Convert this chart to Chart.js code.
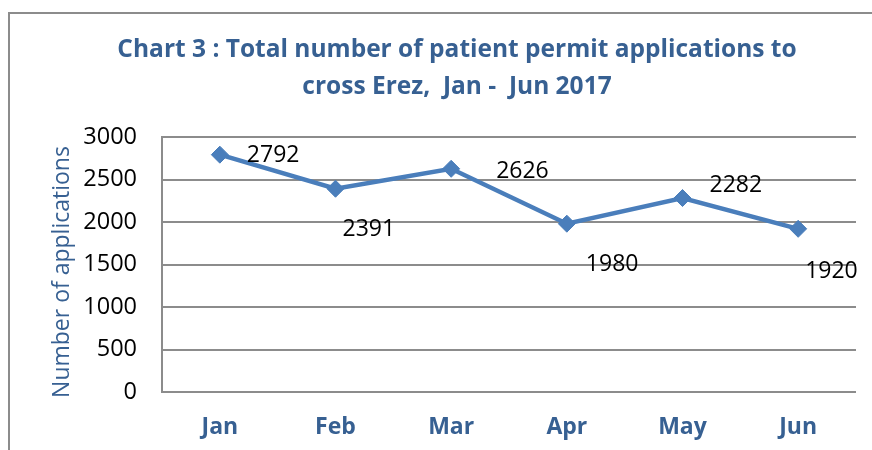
<!DOCTYPE html>
<html>
<head>
<meta charset="utf-8">
<script src="https://cdn.jsdelivr.net/npm/chart.js@4"></script>
<style>
  html, body { margin: 0; padding: 0; background: #ffffff; }
  #wrap { width: 872px; height: 450px; position: relative; }
</style>
</head>
<body>
<div id="wrap"><canvas id="c" width="872" height="450"></canvas></div>
<script>
const categories = ['Jan', 'Feb', 'Mar', 'Apr', 'May', 'Jun'];
const applications = [2792, 2391, 2626, 1980, 2282, 1920];
const yTicks = [0, 500, 1000, 1500, 2000, 2500, 3000];
const titleLines = ['Chart 3 : Total number of patient permit applications to', 'cross Erez,  Jan -  Jun 2017'];
const yAxisTitle = 'Number of applications';

const BLUE_TEXT = '#376092';
const LINE_BLUE = '#4A7EBB';
const GRID = '#8C8C8C';
const FONT = "'Open Sans', 'Liberation Sans', sans-serif";

// label offsets (left edge dx, vertical dy) relative to each point, as placed in the original
const labelOffsets = [[27, 0], [7, 40], [45, 2], [19, 40], [27, -14], [7, 42]];

const frame = {
  id: 'frame',
  beforeDraw(chart) {
    const ctx = chart.ctx;
    ctx.save();
    ctx.fillStyle = '#ffffff';
    ctx.fillRect(0, 0, chart.width, chart.height);
    ctx.strokeStyle = GRID;
    ctx.lineWidth = 2;
    ctx.strokeRect(9, 13, 900, 500);
    // chart title, centred on the outer frame as in the original
    ctx.fillStyle = BLUE_TEXT;
    ctx.font = 'bold 24.5px ' + FONT;
    ctx.textAlign = 'center';
    ctx.textBaseline = 'middle';
    ctx.fillText(titleLines[0], 457, 50);
    ctx.fillText(titleLines[1], 457, 87);
    // y axis title
    ctx.font = '23px ' + FONT;
    ctx.translate(62, 272);
    ctx.rotate(-Math.PI / 2);
    ctx.fillText(yAxisTitle, 0, 0);
    ctx.restore();
  }
};

const dataLabels = {
  id: 'dataLabels',
  afterDatasetsDraw(chart) {
    const ctx = chart.ctx;
    const meta = chart.getDatasetMeta(0);
    ctx.save();
    ctx.font = '23px ' + FONT;
    ctx.fillStyle = '#000000';
    ctx.textAlign = 'left';
    ctx.textBaseline = 'middle';
    meta.data.forEach((pt, i) => {
      const off = labelOffsets[i];
      ctx.fillText(String(applications[i]), pt.x + off[0], pt.y + off[1] + 1);
    });
    ctx.restore();
  }
};

new Chart(document.getElementById('c'), {
  type: 'line',
  data: {
    labels: categories,
    datasets: [{
      data: applications,
      borderColor: LINE_BLUE,
      backgroundColor: LINE_BLUE,
      borderWidth: 4.5,
      pointStyle: 'rectRot',
      pointRadius: 8.5,
      pointBorderWidth: 1,
      pointBackgroundColor: LINE_BLUE,
      pointBorderColor: LINE_BLUE,
      tension: 0,
      fill: false
    }]
  },
  options: {
    responsive: false,
    animation: false,
    devicePixelRatio: 1,
    layout: { padding: { left: 0, right: 16, top: 137, bottom: 0 } },
    plugins: {
      legend: { display: false },
      tooltip: { enabled: false },
      title: { display: false }
    },
    scales: {
      x: {
        offset: true,
        grid: { display: false },
        border: { display: false },
        ticks: {
          color: BLUE_TEXT,
          font: { family: FONT, size: 23, weight: 'bold' },
          padding: 14
        },
        afterFit(scale) { scale.height = 58; }
      },
      y: {
        min: 0,
        max: 3000,
        afterBuildTicks(scale) { scale.ticks = yTicks.map(v => ({ value: v })); },
        grid: { color: GRID, lineWidth: 2, drawTicks: false },
        border: { display: true, color: GRID, width: 2 },
        ticks: {
          color: '#000000',
          font: { family: FONT, size: 23.5 },
          padding: 25,
          callback: (v) => String(v)
        },
        title: { display: false },
        afterFit(scale) { scale.width = 162; }
      }
    }
  },
  plugins: [frame, dataLabels]
});
</script>
</body>
</html>
